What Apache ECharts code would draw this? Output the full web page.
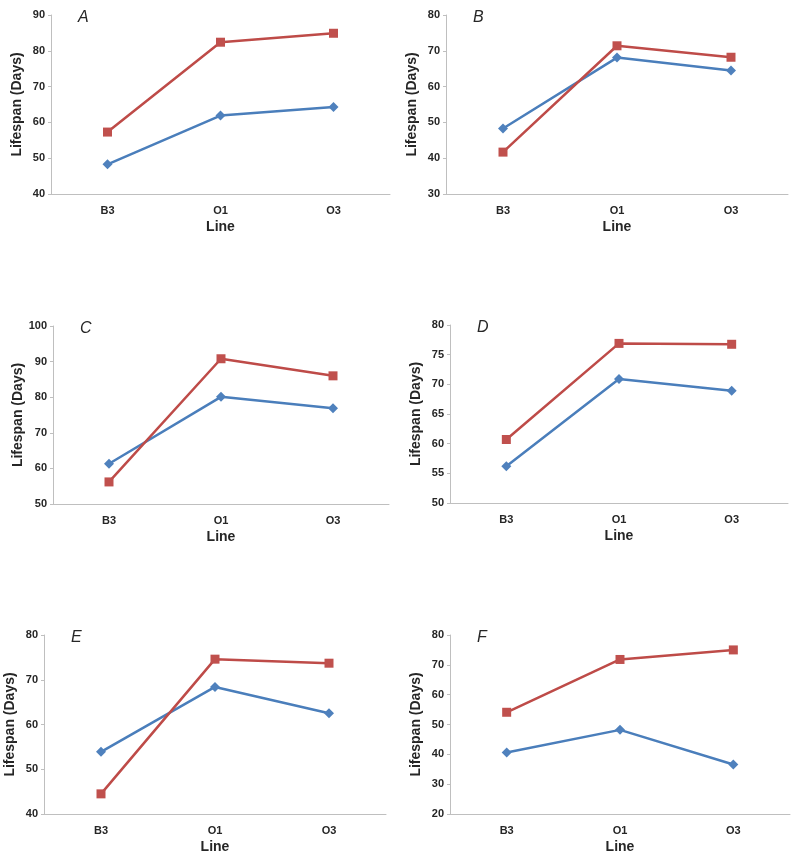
<!DOCTYPE html>
<html>
<head>
<meta charset="utf-8">
<script src="https://cdn.jsdelivr.net/npm/echarts@6/dist/echarts.min.js"></script>
<style>
html,body{margin:0;padding:0;background:#fff;}
#chart{width:800px;height:857px;}
</style>
</head>
<body>
<div id="chart"></div>
<script>
// ---- data ----
const categories = ['B3', 'O1', 'O3'];
const panelLetters = ['A', 'B', 'C', 'D', 'E', 'F'];

const blueA = [48.3, 61.9, 64.3];
const redA  = [57.3, 82.4, 84.9];
const blueB = [48.3, 68.1, 64.5];
const redB  = [41.7, 71.4, 68.2];
const blueC = [61.3, 80.1, 76.9];
const redC  = [56.2, 90.8, 86.0];
const blueD = [56.2, 70.9, 68.9];
const redD  = [60.7, 76.9, 76.75];
const blueE = [53.9, 68.4, 62.5];
const redE  = [44.5, 74.6, 73.7];
const blueF = [40.6, 48.2, 36.6];
const redF  = [54.1, 71.8, 75.0];

const yMins      = [40, 30, 50, 50, 40, 20];
const yMaxs      = [90, 80, 100, 80, 80, 80];
const yIntervals = [10, 10, 10, 5, 10, 10];

const yAxisTitle = 'Lifespan (Days)';
const xAxisTitle = 'Line';

// ---- layout ----
const grids = [
  {left: 51,  top: 15,  width: 339, height: 179},
  {left: 446, top: 15,  width: 342, height: 179},
  {left: 53,  top: 326, width: 336, height: 178},
  {left: 450, top: 325, width: 338, height: 178},
  {left: 44,  top: 635, width: 342, height: 179},
  {left: 450, top: 635, width: 340, height: 179}
];
const blues = [blueA, blueB, blueC, blueD, blueE, blueF];
const reds  = [redA, redB, redC, redD, redE, redF];

const blueLine = '#4A7EBB', blueMark = '#4F81BD';
const redLine = '#BE4B48', redMark = '#C0504D';
const axisGray = '#BFBFBF';
const fontFam = '"Liberation Sans", Arial, sans-serif';

const option = {
  backgroundColor: '#fff',
  animation: false,
  title: grids.map((g, i) => ({
    text: panelLetters[i],
    left: g.left + 27,
    top: g.top - 5,
    padding: 0,
    textStyle: {fontFamily: fontFam, fontStyle: 'italic', fontWeight: 'normal', fontSize: 16, color: '#262626'}
  })),
  grid: grids.map(g => ({left: g.left, top: g.top, width: g.width, height: g.height, containLabel: false})),
  xAxis: grids.map((g, i) => ({
    type: 'category',
    gridIndex: i,
    data: categories,
    boundaryGap: true,
    name: xAxisTitle,
    nameLocation: 'middle',
    nameGap: 26,
    nameTextStyle: {fontFamily: fontFam, fontWeight: 'bold', fontSize: 14, color: '#262626'},
    axisLine: {show: true, lineStyle: {color: axisGray, width: 1}},
    axisTick: {show: false},
    axisLabel: {fontFamily: fontFam, fontWeight: 'bold', fontSize: 11, color: '#262626', margin: 11},
    splitLine: {show: false}
  })),
  yAxis: grids.map((g, i) => ({
    type: 'value',
    gridIndex: i,
    min: yMins[i],
    max: yMaxs[i],
    interval: yIntervals[i],
    name: yAxisTitle,
    nameLocation: 'middle',
    nameGap: 27,
    nameTextStyle: {fontFamily: fontFam, fontWeight: 'bold', fontSize: 14, color: '#262626'},
    axisLine: {show: true, lineStyle: {color: axisGray, width: 1}},
    axisTick: {show: true, length: 3, lineStyle: {color: axisGray}},
    axisLabel: {fontFamily: fontFam, fontWeight: 'bold', fontSize: 11, color: '#262626', margin: 6},
    splitLine: {show: false}
  })),
  series: []
};

grids.forEach((g, i) => {
  option.series.push({
    type: 'line',
    name: 'Series 1',
    xAxisIndex: i, yAxisIndex: i,
    data: blues[i],
    symbol: 'diamond',
    symbolSize: 10,
    lineStyle: {color: blueLine, width: 2.5},
    itemStyle: {color: blueMark},
    z: 2
  });
  option.series.push({
    type: 'line',
    name: 'Series 2',
    xAxisIndex: i, yAxisIndex: i,
    data: reds[i],
    symbol: 'rect',
    symbolSize: 9,
    lineStyle: {color: redLine, width: 2.5},
    itemStyle: {color: redMark},
    z: 3
  });
});

const chart = echarts.init(document.getElementById('chart'), null, {renderer: 'canvas'});
chart.setOption(option);
</script>
</body>
</html>
